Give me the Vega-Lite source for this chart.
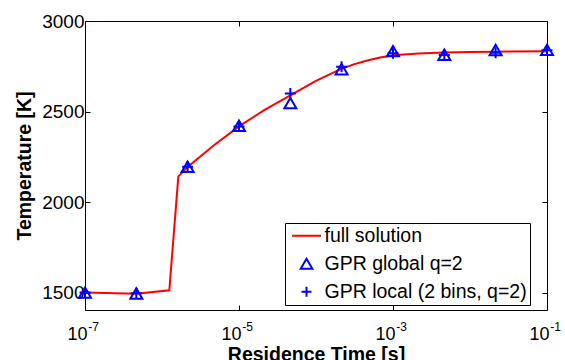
{
  "$schema": "https://vega.github.io/schema/vega-lite/v6.json",
  "width": 462,
  "height": 289,
  "autosize": "none",
  "padding": {"left": 85, "top": 21, "right": 18, "bottom": 50},
  "background": "white",
  "config": {
    "view": {"stroke": "black", "strokeWidth": 1},
    "font": "Liberation Sans",
    "axis": {"domain": false, "grid": false, "tickColor": "black", "tickWidth": 1, "labelColor": "black", "titleColor": "black", "labelFont": "Liberation Sans", "titleFont": "Liberation Sans", "zindex": 1}
  },
  "data": {
    "values": [
      {"series": "full solution", "t": 1e-7, "T": 1502},
      {"series": "full solution", "t": 4.64e-7, "T": 1495},
      {"series": "full solution", "t": 1.245e-6, "T": 1515},
      {"series": "full solution", "t": 1.63e-6, "T": 2143},
      {"series": "full solution", "t": 2.15e-6, "T": 2195},
      {"series": "full solution", "t": 4.64e-6, "T": 2312},
      {"series": "full solution", "t": 1e-5, "T": 2419},
      {"series": "full solution", "t": 2.15e-5, "T": 2510},
      {"series": "full solution", "t": 4.64e-5, "T": 2590},
      {"series": "full solution", "t": 1e-4, "T": 2670},
      {"series": "full solution", "t": 2.15e-4, "T": 2737},
      {"series": "full solution", "t": 3.16e-4, "T": 2762},
      {"series": "full solution", "t": 4.64e-4, "T": 2782},
      {"series": "full solution", "t": 6.81e-4, "T": 2799},
      {"series": "full solution", "t": 1e-3, "T": 2811},
      {"series": "full solution", "t": 2.15e-3, "T": 2821},
      {"series": "full solution", "t": 4.64e-3, "T": 2826},
      {"series": "full solution", "t": 1e-2, "T": 2829},
      {"series": "full solution", "t": 2.15e-2, "T": 2831},
      {"series": "full solution", "t": 1e-1, "T": 2833},
      {"series": "GPR global q=2", "t": 1e-7, "T": 1502},
      {"series": "GPR global q=2", "t": 4.64e-7, "T": 1497},
      {"series": "GPR global q=2", "t": 2.15e-6, "T": 2196},
      {"series": "GPR global q=2", "t": 1e-5, "T": 2422},
      {"series": "GPR global q=2", "t": 4.64e-5, "T": 2547},
      {"series": "GPR global q=2", "t": 2.15e-4, "T": 2734},
      {"series": "GPR global q=2", "t": 1e-3, "T": 2834},
      {"series": "GPR global q=2", "t": 4.64e-3, "T": 2814},
      {"series": "GPR global q=2", "t": 2.15e-2, "T": 2840},
      {"series": "GPR global q=2", "t": 1e-1, "T": 2841},
      {"series": "GPR local (2 bins, q=2)", "t": 1e-7, "T": 1502},
      {"series": "GPR local (2 bins, q=2)", "t": 4.64e-7, "T": 1499},
      {"series": "GPR local (2 bins, q=2)", "t": 2.15e-6, "T": 2196},
      {"series": "GPR local (2 bins, q=2)", "t": 1e-5, "T": 2418},
      {"series": "GPR local (2 bins, q=2)", "t": 4.64e-5, "T": 2600},
      {"series": "GPR local (2 bins, q=2)", "t": 2.15e-4, "T": 2747},
      {"series": "GPR local (2 bins, q=2)", "t": 1e-3, "T": 2822},
      {"series": "GPR local (2 bins, q=2)", "t": 4.64e-3, "T": 2812},
      {"series": "GPR local (2 bins, q=2)", "t": 2.15e-2, "T": 2825},
      {"series": "GPR local (2 bins, q=2)", "t": 1e-1, "T": 2838}
    ]
  },
  "resolve": {"axis": {"x": "independent", "y": "independent"}},
  "layer": [
    {
      "transform": [{"filter": "datum.series === 'full solution'"}],
      "mark": {"type": "line", "color": "#FF0000", "strokeWidth": 2, "clip": true},
      "encoding": {
        "x": {"field": "t", "type": "quantitative",
          "scale": {"type": "log", "domain": [1e-7, 0.1], "nice": false},
          "axis": {"orient": "bottom", "values": [1e-7, 1e-5, 1e-3, 1e-1], "labelExpr": "'10'", "labelFontSize": 18, "labelOffset": -8, "tickSize": -5, "labelPadding": 20, "labelFlush": false,
            "title": "Residence Time [s]", "titleFontSize": 19.5, "titleFontWeight": "bold", "titlePadding": 2}},
        "y": {"field": "T", "type": "quantitative",
          "scale": {"domain": [1406, 3000], "nice": false, "zero": false},
          "axis": {"orient": "left", "values": [1500, 2000, 2500, 3000], "format": "d", "labelFontSize": 19, "tickSize": -5, "labelPadding": 6,
            "title": "Temperature [K]", "titleFontSize": 19.5, "titleFontWeight": "bold", "titlePadding": 7}}
      }
    },
    {
      "transform": [{"filter": "datum.series === 'GPR global q=2'"}],
      "mark": {"type": "point", "filled": false, "strokeWidth": 2, "size": 144, "opacity": 1},
      "encoding": {
        "x": {"field": "t", "type": "quantitative",
          "scale": {"type": "log", "domain": [1e-7, 0.1], "nice": false},
          "axis": {"orient": "bottom", "values": [1e-7, 1e-5, 1e-3, 1e-1], "labelExpr": "'-' + round(-log(datum.value)/LN10)", "labelFontSize": 12, "labelOffset": 8, "ticks": false, "labelPadding": 11, "labelFlush": false, "title": null}},
        "y": {"field": "T", "type": "quantitative",
          "scale": {"domain": [1406, 3000], "nice": false, "zero": false},
          "axis": {"orient": "right", "values": [1500, 2000, 2500, 3000], "labels": false, "tickSize": -5, "title": null}},
        "color": {"field": "series", "type": "nominal",
          "scale": {"domain": ["full solution", "GPR global q=2", "GPR local (2 bins, q=2)"], "range": ["#FF0000", "#0000FF", "#0000FF"]},
          "legend": {"title": null, "orient": "none", "legendX": 200, "legendY": 202, "strokeColor": "black", "fillColor": "white", "padding": 3, "cornerRadius": 0,
            "labelFont": "Liberation Sans", "labelFontSize": 19.5, "labelColor": "black", "labelOffset": 17, "labelLimit": 0, "symbolSize": 400, "rowPadding": 7, "symbolStrokeWidth": 2,
            "labelExpr": "datum.label + '\u00a0'",
            "encoding": {"symbols": {"size": {"value": {"expr": "datum.value === 'full solution' ? 841 : datum.value === 'GPR global q=2' ? 137 : 100"}}, "x": {"value": 18.5}}}}},
        "shape": {"field": "series", "type": "nominal",
          "scale": {"domain": ["full solution", "GPR global q=2", "GPR local (2 bins, q=2)"], "range": ["stroke", "triangle-up", "M-1,0H1M0,-1V1"]},
          "legend": {"title": null, "orient": "none", "legendX": 200, "legendY": 202, "strokeColor": "black", "fillColor": "white", "padding": 3, "cornerRadius": 0,
            "labelFont": "Liberation Sans", "labelFontSize": 19.5, "labelColor": "black", "labelOffset": 17, "labelLimit": 0, "symbolSize": 400, "rowPadding": 7, "symbolStrokeWidth": 2,
            "labelExpr": "datum.label + '\u00a0'",
            "encoding": {"symbols": {"size": {"value": {"expr": "datum.value === 'full solution' ? 841 : datum.value === 'GPR global q=2' ? 137 : 100"}}, "x": {"value": 18.5}}}}}
      }
    },
    {
      "transform": [{"filter": "datum.series === 'GPR local (2 bins, q=2)'"}],
      "mark": {"type": "point", "filled": false, "strokeWidth": 2, "size": 121, "opacity": 1},
      "encoding": {
        "x": {"field": "t", "type": "quantitative",
          "scale": {"type": "log", "domain": [1e-7, 0.1], "nice": false},
          "axis": {"orient": "top", "values": [1e-7, 1e-5, 1e-3, 1e-1], "labels": false, "tickSize": -5, "title": null}},
        "y": {"field": "T", "type": "quantitative",
          "scale": {"domain": [1406, 3000], "nice": false, "zero": false},
          "axis": null},
        "color": {"field": "series", "type": "nominal"},
        "shape": {"field": "series", "type": "nominal"}
      }
    }
  ]
}
